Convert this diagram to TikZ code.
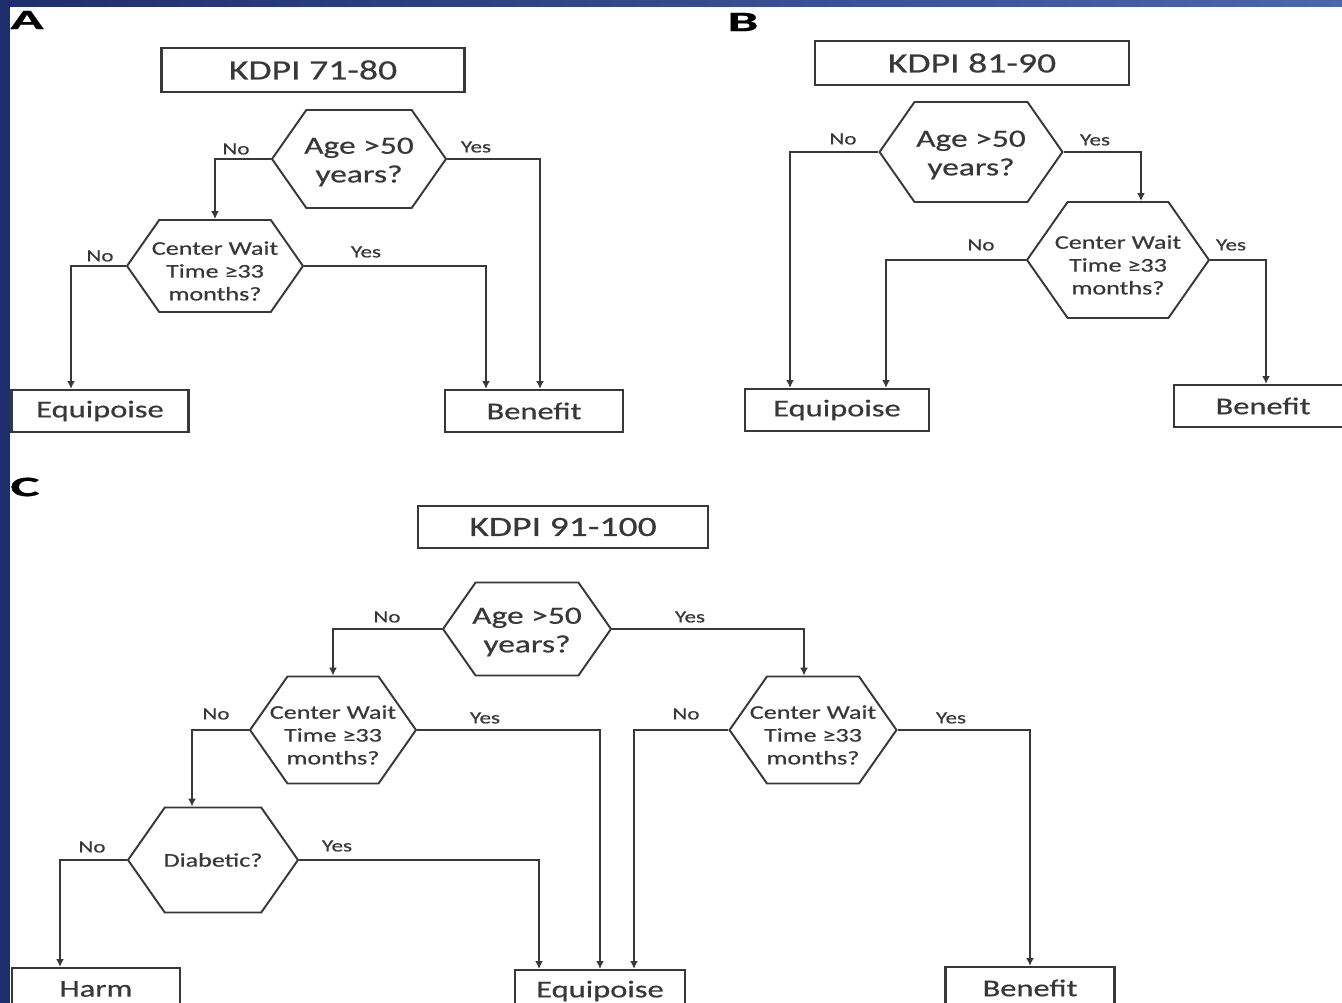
\documentclass[tikz,border=0pt]{standalone}
\usepackage{fontspec}
\setmainfont{Carlito}[FakeStretch=1.35, FakeBold=0.5]
\usepackage{graphicx}
\usetikzlibrary{shapes.symbols, arrows.meta}

\definecolor{slideblue}{HTML}{1E2E6C}
\definecolor{slidelight}{HTML}{4B66AA}
\definecolor{inkgray}{HTML}{383838}

\begin{document}
\begin{tikzpicture}[x=0.02cm, y=-0.02cm,
    box/.style={draw=inkgray, line width=1.2pt, text=inkgray, inner sep=0pt,
        font=\fontsize{13.7}{16}\selectfont, minimum height=0.84cm},
    title/.style={box, font=\fontsize{15.9}{18}\selectfont, minimum height=0.88cm},
    hexa/.style={draw=inkgray, line width=1.1pt, shape=signal,
        signal to=west and east, signal pointer angle=110, inner sep=0pt},
    agetext/.style={text=inkgray, align=center, inner sep=0pt, yshift=-0.06cm,
        font=\fontsize{14.1}{16.3}\selectfont},
    waittext/.style={text=inkgray, align=center, inner sep=0pt, yshift=-0.1cm,
        font=\fontsize{11}{13}\selectfont},
    lbl/.style={text=inkgray, font=\fontsize{9.7}{11}\selectfont, inner sep=0pt},
    panel/.style={text=black, font=\fontsize{16}{18}\selectfont\bfseries, inner sep=0pt},
    arr/.style={draw=inkgray, line width=1.1pt, -{Latex[length=4.5pt,width=4.5pt]}}]

    \useasboundingbox (0,0) rectangle (1342,1003);
    \clip (0,0) rectangle (1342,1003);
    \fill[white] (0,0) rectangle (1342,1003);
    \shade[left color=slideblue, right color=slidelight] (0,0) rectangle (1342,7);
    \fill[slideblue] (0,0) rectangle (10,1003);

    % A
    \node[panel] (pa) at (27,20) {\scalebox{1.45}[1]{A}};
    \node[title, minimum width=6.06cm] (aT) at (313,70) {KDPI 71-80};
    \node[hexa, minimum width=3.48cm, minimum height=1.96cm] (aAge) at (359,159) {};
    \node[agetext] (aAgeTxt) at (aAge) {Age >50\\years?};
    \node[hexa, minimum width=3.52cm, minimum height=1.84cm] (aWait) at (215,266) {};
    \node[waittext] (aWaitTxt) at (aWait) {Center Wait\\Time ≥33\\months?};
    \node[box, minimum width=3.54cm] (aEq) at (100,411) {Equipoise};
    \node[box, minimum width=3.56cm] (aBen) at (534,411) {Benefit};

    \draw[arr] (aAge.west) -| (aWait.north);
    \draw[arr] (aAge.east) -| ([xshift=0.12cm]aBen.north);
    \draw[arr] (aWait.west) -| ([xshift=-0.58cm]aEq.north);
    \draw[arr] (aWait.east) -| ([xshift=-0.96cm]aBen.north);
    \node[lbl] (aNo1) at (236,149) {No};
    \node[lbl] (aYes1) at (476,147) {Yes};
    \node[lbl] (aNo2) at (100,256) {No};
    \node[lbl] (aYes2) at (366,252) {Yes};

    % B
    \node[panel] (pb) at (743,22) {\scalebox{1.45}[1]{B}};
    \node[title, minimum width=6.28cm] (bT) at (972,63) {KDPI 81-90};
    \node[hexa, minimum width=3.66cm, minimum height=2.0cm] (bAge) at (971,152) {};
    \node[agetext] (bAgeTxt) at (bAge) {Age >50\\years?};
    \node[hexa, minimum width=3.64cm, minimum height=2.32cm] (bWait) at (1118,260) {};
    \node[waittext] (bWaitTxt) at (bWait) {Center Wait\\Time ≥33\\months?};
    \node[box, minimum width=3.68cm] (bEq) at (837,410) {Equipoise};
    \node[box, minimum width=3.56cm] (bBen) at (1263,406) {Benefit};

    \draw[arr] (bAge.west) -| ([xshift=-0.94cm]bEq.north);
    \draw[arr] (bAge.east) -| ([xshift=0.46cm]bWait.north);
    \draw[arr] (bWait.west) -| ([xshift=0.98cm]bEq.north);
    \draw[arr] (bWait.east) -| ([xshift=0.06cm]bBen.north);
    \node[lbl] (bNo1) at (843,139) {No};
    \node[lbl] (bYes1) at (1095,140) {Yes};
    \node[lbl] (bNo2) at (981,245) {No};
    \node[lbl] (bYes2) at (1231,245) {Yes};

    % C
    \node[panel] (pc) at (25,487) {\scalebox{1.45}[1]{C}};
    \node[title, minimum width=5.8cm, minimum height=0.84cm] (cT) at (563,527) {KDPI 91-100};
    \node[hexa, minimum width=3.36cm, minimum height=1.86cm] (cAge) at (527,629) {};
    \node[agetext] (cAgeTxt) at (cAge) {Age >50\\years?};
    \node[hexa, minimum width=3.32cm, minimum height=2.14cm] (cWaitL) at (333,730) {};
    \node[waittext] (cWaitLTxt) at (cWaitL) {Center Wait\\Time ≥33\\months?};
    \node[hexa, minimum width=3.34cm, minimum height=2.14cm] (cWaitR) at (813,730) {};
    \node[waittext] (cWaitRTxt) at (cWaitR) {Center Wait\\Time ≥33\\months?};
    \node[hexa, minimum width=3.4cm, minimum height=2.1cm] (cDiab) at (213,860) {};
    \node[waittext, yshift=0.1cm] (cDiabTxt) at (cDiab) {Diabetic?};
    \node[box, minimum width=3.36cm] (cHarm) at (96,989) {Harm};
    \node[box, minimum width=3.4cm] (cEq) at (600,991) {Equipoise};
    \node[box, minimum width=3.38cm] (cBen) at (1030,988) {Benefit};

    \draw[arr] (cAge.west) -| (cWaitL.north);
    \draw[arr] (cAge.east) -| ([xshift=-0.18cm]cWaitR.north);
    \draw[arr] (cWaitL.west) -| ([xshift=-0.42cm]cDiab.north);
    \draw[arr] (cWaitL.east) -| (cEq.north);
    \draw[arr] (cWaitR.west) -| ([xshift=0.68cm]cEq.north);
    \draw[arr] (cWaitR.east) -| (cBen.north);
    \draw[arr] (cDiab.west) -| ([xshift=-0.72cm]cHarm.north);
    \draw[arr] (cDiab.east) -| ([xshift=-1.22cm]cEq.north);
    \node[lbl] (cNo1) at (387,617) {No};
    \node[lbl] (cYes1) at (690,617) {Yes};
    \node[lbl] (cNo2) at (216,714) {No};
    \node[lbl] (cYes2) at (485,718) {Yes};
    \node[lbl] (cNo3) at (686,714) {No};
    \node[lbl] (cYes3) at (951,718) {Yes};
    \node[lbl] (cNo4) at (92,847) {No};
    \node[lbl] (cYes4) at (337,846) {Yes};
\end{tikzpicture}
\end{document}
